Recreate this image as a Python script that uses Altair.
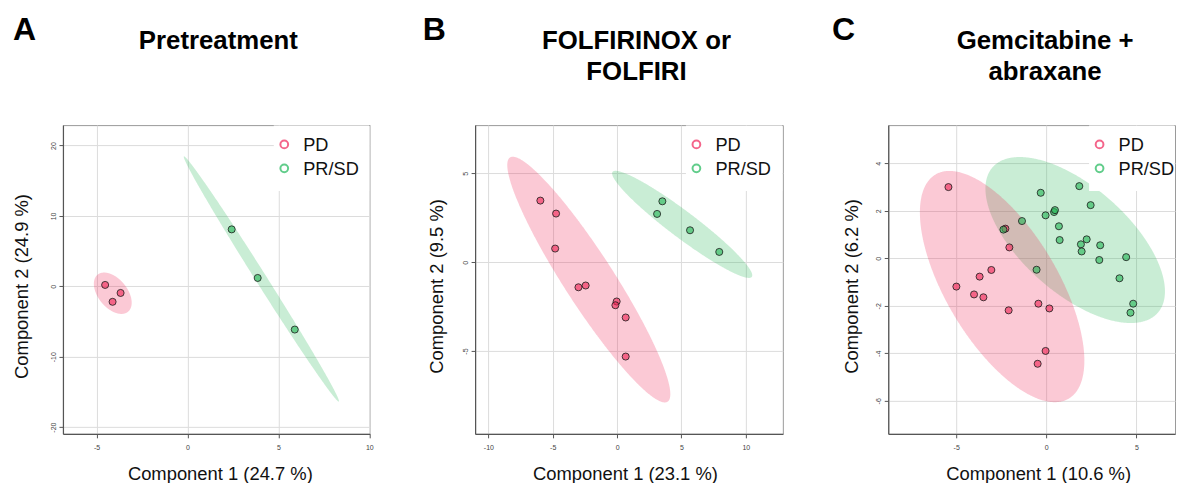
import altair as alt
import numpy as np
import pandas as pd

# ---------------- data ----------------
groups = ["PD", "PR/SD"]
point_colors = ["#EF2757", "#27B757"]
legend_colors = ["#F0245A", "#1FB85A"]

panel_letters = ["A", "B", "C"]
panel_titles = [["Pretreatment"], ["FOLFIRINOX or", "FOLFIRI"], ["Gemcitabine +", "abraxane"]]
x_titles = ["Component 1 (24.7 %)", "Component 1 (23.1 %)", "Component 1 (10.6 %)"]
y_titles = ["Component 2 (24.9 %)", "Component 2 (9.5 %)", "Component 2 (6.2 %)"]

x_ticks = [[-5, 0, 5, 10], [-10, -5, 0, 5, 10], [-5, 0, 5]]
y_ticks = [[-20, -10, 0, 10, 20], [-5, 0, 5], [-6, -4, -2, 0, 2, 4]]
x_domains = [[-6.85, 10.02], [-11.03, 12.88], [-8.77, 7.14]]
y_domains = [[-20.95, 22.9], [-9.66, 7.72], [-7.39, 5.61]]

# Panel A (Pretreatment)
a_pd_x = [-4.53, -3.68, -4.12]
a_pd_y = [0.20, -0.94, -2.20]
a_pr_x = [2.43, 3.86, 5.90]
a_pr_y = [8.09, 1.19, -6.14]

# Panel B (FOLFIRINOX or FOLFIRI)
b_pd_x = [-5.96, -4.74, -4.81, -3.00, -2.44, -0.03, -0.13, 0.67, 0.67]
b_pd_y = [3.47, 2.74, 0.77, -1.41, -1.31, -2.21, -2.42, -3.11, -5.31]
b_pr_x = [3.52, 3.11, 5.67, 7.94]
b_pr_y = [3.43, 2.72, 1.80, 0.58]

# Panel C (Gemcitabine + abraxane)
c_pd_x = [-5.43, -4.99, -4.01, -3.70, -3.49, -3.05, -2.27, -2.05, -2.09, -0.44, 0.17, -0.04, -0.48]
c_pd_y = [3.00, -1.19, -1.52, -0.77, -1.64, -0.49, 1.25, 0.46, -2.19, -1.91, -2.11, -3.90, -4.44]
c_pr_x = [-2.38, -1.35, -0.31, -0.04, 0.43, 0.48, 0.70, 0.74, -0.54, 1.83, 2.46, 2.24,
          1.92, 1.96, 2.99, 2.94, 4.43, 4.06, 4.82, 4.67]
c_pr_y = [1.21, 1.57, 2.76, 1.81, 1.95, 2.03, 1.35, 0.77, -0.48, 3.04, 2.24, 0.80,
          0.59, 0.29, 0.55, -0.07, 0.05, -0.84, -1.91, -2.29]

panel_data = [
    (a_pd_x, a_pd_y, a_pr_x, a_pr_y),
    (b_pd_x, b_pd_y, b_pr_x, b_pr_y),
    (c_pd_x, c_pd_y, c_pr_x, c_pr_y),
]

# ---------------- layout (pixels) ----------------
FONT = "Liberation Sans"
H = 309
widths = [307, 308, 287]
GAP = 105.5                      # plot-to-plot gap (flush layout)
letter_x = [-50, -52.3, -56.3]
title_x = [155.5, 161.5, 157]
ytitle_x = [-41, -39, -37]
xtitle_x = [157, 150, 150]
legend_shift = [0, 0, -10]       # keep the C legend inside the narrower panel

CHI2_95 = 5.991  # 95% confidence ellipse, 2 dof


def ellipse_band(xs, ys, n=300):
    """Confidence ellipse of the group, as lower/upper bounds along x."""
    x = np.asarray(xs, float)
    y = np.asarray(ys, float)
    cx, cy = x.mean(), y.mean()
    S = np.cov(x, y)
    Si = np.linalg.inv(S)
    a, b, d = Si[0, 0], Si[0, 1], Si[1, 1]
    xr = np.sqrt(CHI2_95 * S[0, 0])
    dx = xr * np.cos(np.linspace(0, np.pi, n))
    disc = np.clip(b * b * dx * dx - d * (a * dx * dx - CHI2_95), 0, None)
    r = np.sqrt(disc)
    y1 = (-b * dx + r) / d
    y2 = (-b * dx - r) / d
    return pd.DataFrame({"x": cx + dx, "lo": cy + np.minimum(y1, y2), "hi": cy + np.maximum(y1, y2)})


one = pd.DataFrame({"k": [0]})


def panel(i):
    pd_x, pd_y, pr_x, pr_y = panel_data[i]
    W = widths[i]
    ls = legend_shift[i]
    pts = pd.DataFrame({
        "x": pd_x + pr_x,
        "y": pd_y + pr_y,
        "group": [groups[0]] * len(pd_x) + [groups[1]] * len(pr_x),
    })
    xs = alt.Scale(domain=x_domains[i], nice=False, zero=False)
    ys = alt.Scale(domain=y_domains[i], nice=False, zero=False)
    ax = alt.Axis(values=x_ticks[i], title=x_titles[i], titleX=xtitle_x[i], titleY=45.5,
                  titleAlign="center", titleBaseline="alphabetic", titleAngle=0,
                  labelExpr="'' + datum.value", labelPadding=6, labelFlush=False,
                  labelOverlap=False)
    ay = alt.Axis(values=y_ticks[i], title=y_titles[i], titleX=ytitle_x[i], titleY=161,
                  titleAngle=270, titleAlign="center", titleBaseline="middle",
                  labelAngle=270, labelAlign="center", labelBaseline="bottom",
                  labelPadding=2.5, labelExpr="'' + datum.value", labelFlush=False,
                  labelOverlap=False)
    cscale = alt.Scale(domain=groups, range=point_colors)

    layers = []
    # invisible vertical rule that fixes the chart's top/bottom extent
    layers.append(alt.Chart(one).mark_rule(opacity=0, strokeOpacity=0).encode(
        x=alt.value(0), y=alt.value(-116), y2=alt.value(H + 49)))
    # ellipses: PR/SD first, PD on top
    for g, ex, ey in [(groups[1], pr_x, pr_y), (groups[0], pd_x, pd_y)]:
        e = ellipse_band(ex, ey)
        e["group"] = g
        layers.append(alt.Chart(e).mark_area(opacity=0.25, clip=True).encode(
            x=alt.X("x:Q", scale=xs, axis=ax),
            y=alt.Y("lo:Q", scale=ys, axis=ay),
            y2="hi:Q",
            color=alt.Color("group:N", scale=cscale, legend=None)))
    # points
    layers.append(alt.Chart(pts).mark_point(
        filled=True, size=50, fillOpacity=0.62, stroke="#1a1a1a", strokeWidth=0.8,
        strokeOpacity=1, shape="circle", clip=True).encode(
        x=alt.X("x:Q", scale=xs, axis=ax),
        y=alt.Y("y:Q", scale=ys, axis=ay),
        fill=alt.Fill("group:N", scale=cscale, legend=None)))
    # legend box
    layers.append(alt.Chart(one).mark_rect(color="white", clip=True).encode(
        x=alt.value(211 + ls), x2=alt.value(W - 0.5), y=alt.value(0.5), y2=alt.value(66)))
    for j, g in enumerate(groups):
        layers.append(alt.Chart(one).mark_point(
            shape="circle", filled=False, size=60, strokeWidth=2,
            color=legend_colors[j], clip=True).encode(
            x=alt.value(221.5 + ls), y=alt.value(19.3 + 24 * j)))
        layers.append(alt.Chart(one).mark_text(
            text=g, fontSize=18.2, font=FONT, align="left", baseline="alphabetic",
            color="#111", clip=True).encode(
            x=alt.value(240.5 + ls), y=alt.value(26 + 24 * j)))
    # panel letter and title
    layers.append(alt.Chart(one).mark_text(
        text=panel_letters[i], fontSize=32, fontWeight="bold", font=FONT,
        align="left", baseline="alphabetic", color="#000").encode(
        x=alt.value(letter_x[i]), y=alt.value(-85)))
    layers.append(alt.Chart(one).mark_text(
        text=panel_titles[i], fontSize=25.8, fontWeight="bold", font=FONT,
        align="center", baseline="alphabetic", lineHeight=31.7, color="#000").encode(
        x=alt.value(title_x[i]), y=alt.value(-76.5)))
    return alt.layer(*layers).properties(width=W, height=H)


chart = alt.hconcat(panel(0), panel(1), panel(2), spacing=GAP, bounds="flush").properties(
    padding={"left": 4, "right": 0, "top": 0, "bottom": 0},
    background="white",
).configure_view(
    stroke="#9a9a9a", strokeWidth=1
).configure_axis(
    labelFont=FONT, labelFontSize=7, labelColor="#444",
    tickColor="#555", tickSize=4, tickWidth=1,
    domainColor="#555", domainWidth=1.2,
    gridColor="#dcdcdc", gridWidth=1,
    titleFont=FONT, titleFontSize=18.4, titleFontWeight="normal", titleColor="#111",
)

chart.save("out.html", embed_options={"renderer": "svg", "actions": False})
